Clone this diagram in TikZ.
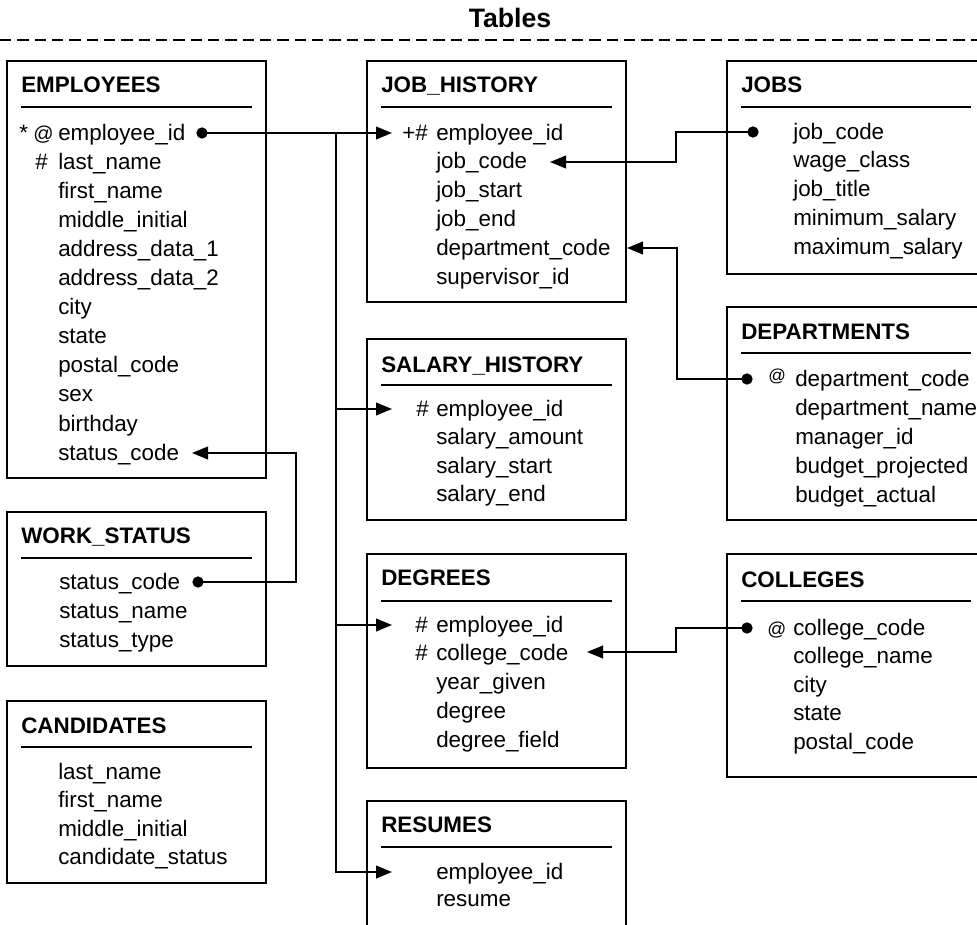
\documentclass[tikz,border=0pt]{standalone}
\usepackage{fontspec}
\setmainfont{Liberation Sans}
\usetikzlibrary{arrows.meta,fit}
\begin{document}
\begin{tikzpicture}[x=0.75pt,y=-0.75pt,
 box/.style={draw, line width=1.6pt, inner sep=0pt},
 rulel/.style={line width=1.5pt},
 ttl/.style={anchor=base west, inner sep=0pt, font=\fontsize{16.8}{20}\selectfont\bfseries},
 row/.style={anchor=base west, inner sep=0pt, font=\fontsize{16.8}{20}\selectfont},
 mk/.style={anchor=base west, inner sep=0pt, font=\fontsize{16.8}{20}\selectfont},
 atmk/.style={anchor=base west, inner sep=0pt, font=\fontsize{15}{17}\selectfont},
 dot/.style={circle, fill, inner sep=0pt, minimum size=8.5pt},
 conn/.style={line width=1.4pt},
 arr/.style={conn, -{Triangle[length=12pt,width=9.5pt]}},
]
\useasboundingbox (0,0) rectangle (977,924);
\clip (0,0) rectangle (977,924);

% heading
\node[anchor=base, inner sep=0pt, font=\fontsize{20}{24}\selectfont\bfseries] (title) at (510,28) {Tables};
\coordinate (dl) at (0,40);
\coordinate (dr) at (977,40);
\draw[line width=1.3pt, dash pattern=on 8.5pt off 4.5pt] (dl) -- (dr);

% ---------- EMPLOYEES
\node[box, fit={(7,61) (266,478)}] (EMP) {};
\node[ttl] (EMPt) at (21,93) {EMPLOYEES};
\draw[rulel] (21,107) -- (252,107);
\foreach \t [count=\i from 0] in {employee\_id,last\_name,first\_name,middle\_initial,address\_data\_1,address\_data\_2,city,state,postal\_code,sex,birthday,status\_code}
  \node[row] (emp-\i) at (58,{140+29.1*\i}) {\t};
\node[mk] (empm1) at (19,140) {*};
\node[atmk] (empm2) at (33,140) {@};
\node[mk] (empm3) at (35,169) {\#};

% ---------- WORK_STATUS
\node[box, fit={(7,512) (266,666)}] (WS) {};
\node[ttl] (WSt) at (21,543) {WORK\_STATUS};
\draw[rulel] (21,558) -- (252,558);
\foreach \t [count=\i from 0] in {status\_code,status\_name,status\_type}
  \node[row] (ws-\i) at (59,{589+29*\i}) {\t};

% ---------- CANDIDATES
\node[box, fit={(7,701) (266,883)}] (CAN) {};
\node[ttl] (CANt) at (21,733) {CANDIDATES};
\draw[rulel] (21,747) -- (252,747);
\foreach \t [count=\i from 0] in {last\_name,first\_name,middle\_initial,candidate\_status}
  \node[row] (can-\i) at (58,{779+28.5*\i}) {\t};

% ---------- JOB_HISTORY
\node[box, fit={(367,61) (626,302)}] (JH) {};
\node[ttl] (JHt) at (381,93) {JOB\_HISTORY};
\draw[rulel] (381,107) -- (612,107);
\foreach \t [count=\i from 0] in {employee\_id,job\_code,job\_start,job\_end,department\_code,supervisor\_id}
  \node[row] (jh-\i) at (436,{140+28.8*\i}) {\t};
\node[mk] (jhm) at (402,140) {+\#};

% ---------- SALARY_HISTORY
\node[box, fit={(367,339) (626,520)}] (SH) {};
\node[ttl] (SHt) at (381,372) {SALARY\_HISTORY};
\draw[rulel] (381,385) -- (612,385);
\foreach \t [count=\i from 0] in {employee\_id,salary\_amount,salary\_start,salary\_end}
  \node[row] (sh-\i) at (436,{416+28.5*\i}) {\t};
\node[mk] (shm) at (416,416) {\#};

% ---------- DEGREES
\node[box, fit={(367,554) (626,768)}] (DEG) {};
\node[ttl] (DEGt) at (381,585) {DEGREES};
\draw[rulel] (381,601) -- (612,601);
\foreach \t [count=\i from 0] in {employee\_id,college\_code,year\_given,degree,degree\_field}
  \node[row] (deg-\i) at (436,{632+28.8*\i}) {\t};
\node[mk] (degm1) at (415,632) {\#};
\node[mk] (degm2) at (415,660.8) {\#};

% ---------- RESUMES
\node[box, fit={(367,801) (626,940)}] (RES) {};
\node[ttl] (RESt) at (381,832) {RESUMES};
\draw[rulel] (381,847) -- (612,847);
\foreach \t [count=\i from 0] in {employee\_id,resume}
  \node[row] (res-\i) at (436,{879+27*\i}) {\t};

% ---------- JOBS
\node[box, fit={(727,61) (995,274)}] (JOBS) {};
\node[ttl] (JOBSt) at (741,93) {JOBS};
\draw[rulel] (741,107) -- (971,107);
\foreach \t [count=\i from 0] in {job\_code,wage\_class,job\_title,minimum\_salary,maximum\_salary}
  \node[row] (jobs-\i) at (793,{139+28.8*\i}) {\t};

% ---------- DEPARTMENTS
\node[box, fit={(727,307) (995,520)}] (DEP) {};
\node[ttl] (DEPt) at (741,339) {DEPARTMENTS};
\draw[rulel] (741,353) -- (971,353);
\foreach \t [count=\i from 0] in {department\_code,department\_name,manager\_id,budget\_projected,budget\_actual}
  \node[row] (dep-\i) at (795,{386+29*\i}) {\t};
\node[atmk, font=\fontsize{13}{15}\selectfont] (depm) at (768,381) {@};

% ---------- COLLEGES
\node[box, fit={(727,554) (995,777)}] (COL) {};
\node[ttl] (COLt) at (741,587) {COLLEGES};
\draw[rulel] (741,601) -- (971,601);
\foreach \t [count=\i from 0] in {college\_code,college\_name,city,state,postal\_code}
  \node[row] (col-\i) at (793,{635+28.6*\i}) {\t};
\node[atmk, font=\fontsize{14}{16}\selectfont] (colm) at (767,635) {@};

% ---------- bullets
\node[dot] (b-emp) at (202,133) {};
\node[dot] (b-jobs) at (753,132) {};
\node[dot] (b-ws) at (198,582) {};
\node[dot] (b-dep) at (747,379) {};
\node[dot] (b-col) at (747,628) {};

% ---------- arrow targets
\coordinate (t-jh) at (392,133);
\coordinate (t-sh) at (392,409);
\coordinate (t-deg) at (392,625);
\coordinate (t-res) at (392,872);
\coordinate (t-job) at (550,162);
\coordinate (t-dep) at (627,248);
\coordinate (t-ws) at (192,453);
\coordinate (t-col) at (587,652);
\coordinate (trunk) at (336,133);

% ---------- connectors
\draw[arr] (b-emp.center) -- (t-jh);
\draw[arr] (trunk) |- (t-sh);
\draw[arr] (trunk) |- (t-deg);
\draw[arr] (trunk) |- (t-res);
\draw[arr] (b-jobs.center) -- (676,132) -- (676,162) -- (t-job);
\draw[arr] (b-dep.center) -- (677,379) -- (677,248) -- (t-dep);
\draw[arr] (b-ws.center) -- (296,582) -- (296,453) -- (t-ws);
\draw[arr] (b-col.center) -- (676,628) -- (676,652) -- (t-col);
\end{tikzpicture}
\end{document}
